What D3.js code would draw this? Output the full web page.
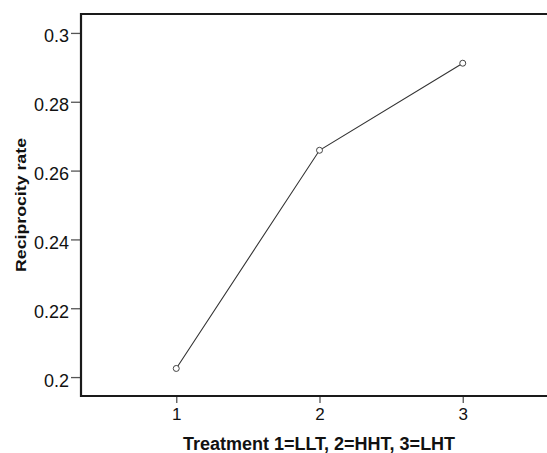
<!DOCTYPE html>
<html>
<head>
<meta charset="utf-8">
<script src="https://cdn.jsdelivr.net/npm/d3@7"></script>
<style>
  body { margin: 0; background: #fff; }
  svg { display: block; font-family: "Liberation Sans", Arial, sans-serif; }
</style>
</head>
<body>
<svg id="chart"></svg>
<script>
// Data
const treatments = [1, 2, 3];
const rates = [0.2025, 0.2659, 0.2912];
const yTicks = [0.2, 0.22, 0.24, 0.26, 0.28, 0.3];
const xTitle = 'Treatment 1=LLT, 2=HHT, 3=LHT';
const yTitle = 'Reciprocity rate';

const width = 547, height = 453;
const plot = {left: 81, top: 14, bottom: 396, right: 558};

const svg = d3.select('#chart')
    .attr('width', width)
    .attr('height', height);

const x = d3.scaleLinear().domain([0.335, 3.665]).range([plot.left, plot.right]);
const y = d3.scaleLinear().domain([0.1945, 0.3055]).range([plot.bottom, plot.top]);

// y axis ticks + labels
const yAxis = svg.append('g')
    .attr('transform', 'translate(' + plot.left + ',0)')
    .call(d3.axisLeft(y).tickValues(yTicks).tickSize(10).tickPadding(2).tickFormat(d => String(+d.toFixed(2))));
yAxis.select('.domain').remove();
yAxis.selectAll('line').attr('stroke', '#555').attr('stroke-width', 1.3);
yAxis.selectAll('text').attr('font-size', 18).attr('fill', '#111').attr('dy', '0.5em')
    .attr('font-family', '"Liberation Sans", Arial, sans-serif');

// x axis ticks + labels
const xAxis = svg.append('g')
    .attr('transform', 'translate(0,' + plot.bottom + ')')
    .call(d3.axisBottom(x).tickValues(treatments).tickSize(7).tickPadding(5).tickFormat(d3.format('d')));
xAxis.select('.domain').remove();
xAxis.selectAll('line').attr('stroke', '#555').attr('stroke-width', 1.3);
xAxis.selectAll('text').attr('font-size', 17).attr('fill', '#111')
    .attr('font-family', '"Liberation Sans", Arial, sans-serif');

// frame
svg.append('path')
    .attr('d', 'M' + width + ',' + plot.top + 'H' + plot.left + 'V' + plot.bottom + 'H' + width)
    .attr('fill', 'none')
    .attr('stroke', '#1a1a1a')
    .attr('stroke-width', 2.2);

// line
const pts = treatments.map((t, i) => ({t: t, v: rates[i]}));
svg.append('path')
    .datum(pts)
    .attr('fill', 'none')
    .attr('stroke', '#333')
    .attr('stroke-width', 1.1)
    .attr('d', d3.line().x(d => x(d.t)).y(d => y(d.v)));

svg.selectAll('circle.pt')
    .data(pts)
    .enter()
    .append('circle')
    .attr('class', 'pt')
    .attr('cx', d => x(d.t))
    .attr('cy', d => y(d.v))
    .attr('r', 3)
    .attr('fill', '#fff')
    .attr('stroke', '#444')
    .attr('stroke-width', 1);

// axis titles
svg.append('text')
    .attr('x', 319)
    .attr('y', 450)
    .attr('text-anchor', 'middle')
    .attr('font-size', 18)
    .attr('font-weight', 'bold')
    .attr('fill', '#111')
    .text(xTitle);

svg.append('text')
    .attr('transform', 'translate(26,205) rotate(-90)')
    .attr('text-anchor', 'middle')
    .attr('font-size', 15)
    .attr('font-weight', 'bold')
    .attr('fill', '#111')
    .attr('textLength', 134)
    .attr('lengthAdjust', 'spacingAndGlyphs')
    .text(yTitle);
</script>
</body>
</html>
